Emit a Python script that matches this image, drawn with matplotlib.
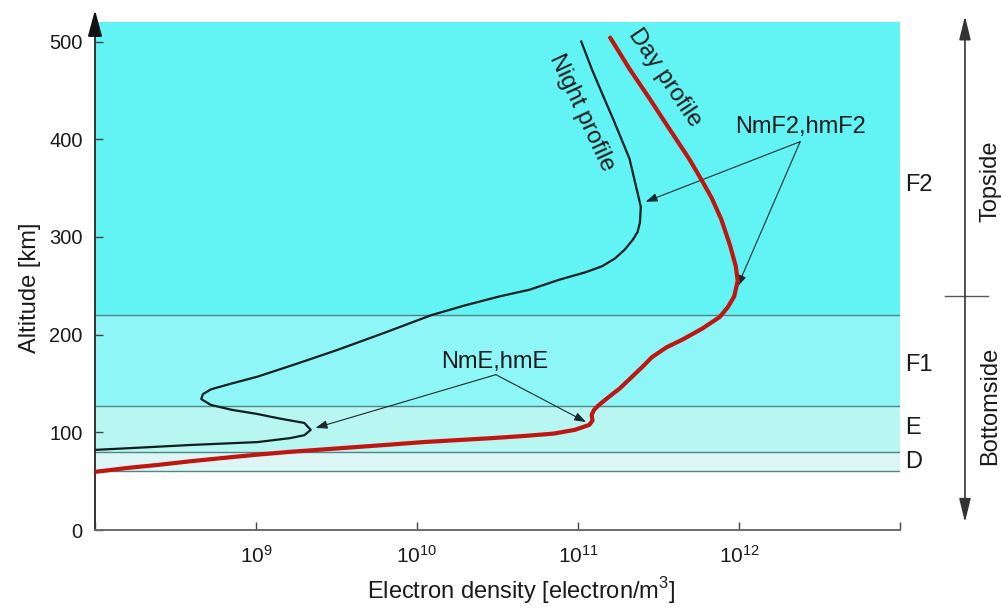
import matplotlib
matplotlib.use('Agg')
import matplotlib.pyplot as plt
from matplotlib.transforms import blended_transform_factory
import numpy as np

plt.rcParams['font.family'] = ['Liberation Sans', 'DejaVu Sans']
plt.rcParams['mathtext.fontset'] = 'custom'
plt.rcParams['mathtext.rm'] = 'Liberation Sans'

# layer boundaries [km] and colours
LAYERS = ['D', 'E', 'F1', 'F2']
LAYER_BOTTOM = [60, 80, 127, 220]
LAYER_TOP = [80, 127, 220, 520]
LAYER_COLORS = ['#dcf5f5', '#b8f6f1', '#8ef6f6', '#62f4f4']
LAYER_LABEL_ALT = [70, 104, 169, 353]

# day profile: log10(Ne), altitude [km]
DAY_LOGNE = [8.0, 8.2, 8.39, 8.6, 8.80, 9.0, 9.21, 9.42, 9.63, 9.84, 10.04, 10.25,
             10.46, 10.67, 10.85, 10.98, 11.07, 11.09, 11.085, 11.10, 11.13, 11.19,
             11.26, 11.33, 11.40, 11.46, 11.55, 11.65, 11.77, 11.88, 11.93, 11.97,
             11.992, 11.98, 11.945, 11.89, 11.83, 11.765, 11.69, 11.61, 11.53, 11.447,
             11.32, 11.2]
DAY_ALT = [59.5, 63.5, 66.6, 70.5, 73.8, 77, 80, 82.5, 85, 87.5, 90, 92,
           94, 96.3, 98.7, 102.5, 107.6, 112, 118, 123, 128, 136,
           145, 156, 167, 177, 187, 195, 206, 218, 228, 239,
           255, 270, 291, 318, 340, 359, 380, 400, 420, 441,
           472, 504]

# night profile: log10(Ne), altitude [km]
NIGHT_LOGNE = [8.0, 8.3, 8.59, 8.8, 9.01, 9.21, 9.30, 9.34, 9.30, 9.15, 9.0, 8.85,
               8.72, 8.66, 8.67, 8.72, 8.85, 9.01, 9.25, 9.50, 9.80, 10.09, 10.30,
               10.51, 10.70, 10.88, 11.05, 11.15, 11.23, 11.29, 11.34, 11.37, 11.385,
               11.39, 11.37, 11.35, 11.32, 11.27, 11.22, 11.165, 11.09, 11.02]
NIGHT_ALT = [82, 84.5, 87, 88.5, 90, 94, 97, 102.5, 109.6, 114, 119, 123,
             128, 134, 139, 144, 150, 157, 170, 184, 202, 220, 230,
             239, 246, 256, 264, 270, 278, 287, 297, 305, 315,
             331, 345, 359, 380, 400, 420, 441, 470, 500]

X_TICKS = [1e8, 1e9, 1e10, 1e11, 1e12, 1e13]
X_TICK_LABELS = ['', r'$\mathregular{10^{9}}$', r'$\mathregular{10^{10}}$',
                 r'$\mathregular{10^{11}}$', r'$\mathregular{10^{12}}$', '']
Y_TICKS = [0, 100, 200, 300, 400, 500]

fig = plt.figure(figsize=(10.01, 6.09), dpi=100)
ax = fig.add_axes([95 / 1001, 79 / 609, 805 / 1001, 508 / 609])
ax.set_xscale('log')
ax.set_xlim(1e8, 1e13)
ax.set_ylim(0, 520)

for lo, hi, c in zip(LAYER_BOTTOM, LAYER_TOP, LAYER_COLORS):
    ax.axhspan(lo, hi, color=c, lw=0, zorder=0)
for lo in LAYER_BOTTOM:
    ax.axhline(lo, color='#4f8585', lw=1.0, zorder=1)

ax.plot(10 ** np.array(NIGHT_LOGNE), NIGHT_ALT, color='#0f1f1f', lw=1.6,
        solid_joinstyle='round', zorder=3)
ax.plot(10 ** np.array(DAY_LOGNE), DAY_ALT, color='#c01510', lw=3.0,
        solid_joinstyle='round', solid_capstyle='round', zorder=4)

# curve labels
ax.text(10 ** 11.02, 427, 'Night profile', rotation=-65, rotation_mode='anchor',
        ha='center', va='center', fontsize=17, color='#1a1a1a')
ax.text(10 ** 11.54, 463, 'Day profile', rotation=-56, rotation_mode='anchor',
        ha='center', va='center', fontsize=17, color='#1a1a1a')

# peak annotations
arrow_kw = dict(arrowstyle='-|>,head_length=0.5,head_width=0.18', color='#1a2a2a',
                lw=0.8, shrinkA=0, shrinkB=0, mutation_scale=14)
ax.text(10 ** 12.38, 413, 'NmF2,hmF2', ha='center', va='center', fontsize=17,
        color='#1a1a1a')
for hx, hy in [(11.42, 336), (11.99, 249)]:
    ax.annotate('', xy=(10 ** hx, hy), xytext=(10 ** 12.38, 397.5), arrowprops=arrow_kw)
ax.text(10 ** 10.48, 172, 'NmE,hmE', ha='center', va='center', fontsize=17,
        color='#1a1a1a')
for hx, hy in [(9.37, 104.5), (11.05, 110.5)]:
    ax.annotate('', xy=(10 ** hx, hy), xytext=(10 ** 10.49, 159), arrowprops=arrow_kw)

# right side labels
tr = blended_transform_factory(ax.transAxes, ax.transData)
for name, alt in zip(LAYERS, LAYER_LABEL_ALT):
    ax.text(1.006, alt, name, transform=tr, ha='left', va='center', fontsize=17,
            color='#1a1a1a')
ax.annotate('', xy=(1.0807, 526), xytext=(1.0807, 8), xycoords=tr, textcoords=tr,
            arrowprops=dict(arrowstyle='<|-|>,head_length=0.9,head_width=0.22',
                            color='#333333', lw=1.2, shrinkA=0, shrinkB=0,
                            mutation_scale=16))
ax.plot([1.056, 1.109], [240, 240], transform=tr, color='#555555', lw=1.0,
        clip_on=False)
ax.text(1.112, 357, 'Topside', transform=tr, rotation=90, ha='center', va='center',
        fontsize=17, color='#1a1a1a')
ax.text(1.112, 127, 'Bottomside', transform=tr, rotation=90, ha='center',
        va='center', fontsize=17, color='#1a1a1a')

# axes styling
for s in ['top', 'right']:
    ax.spines[s].set_visible(False)
ax.spines['left'].set_color('#333333')
ax.spines['left'].set_linewidth(1.4)
ax.spines['bottom'].set_color('#6a6a6a')
ax.spines['bottom'].set_linewidth(1.4)
ax.annotate('', xy=(0, 520 / 508), xytext=(0, 0.99), xycoords='axes fraction',
            arrowprops=dict(arrowstyle='-|>,head_length=1.0,head_width=0.27',
                            color='#111111', lw=1.4, shrinkA=0, shrinkB=0,
                            mutation_scale=16))

ax.set_xticks(X_TICKS)
ax.set_xticklabels(X_TICK_LABELS)
ax.xaxis.set_minor_locator(matplotlib.ticker.NullLocator())
ax.set_yticks(Y_TICKS)
ax.tick_params(axis='both', direction='in', length=6, width=1.0, color='#444444',
               labelsize=14.5, labelcolor='#1a1a1a')
ax.tick_params(axis='x', pad=11, labelsize=15)
ax.tick_params(axis='y', pad=9)

ax.set_xlabel('Electron density [electron/m$^{\\mathregular{3}}$]', fontsize=17,
              color='#1a1a1a')
ax.xaxis.set_label_coords(0.529, -0.088)
ax.set_ylabel('Altitude [km]', fontsize=17, color='#1a1a1a')
ax.yaxis.set_label_coords(-0.067, 0.476)

fig.savefig('out.png', dpi=100)
